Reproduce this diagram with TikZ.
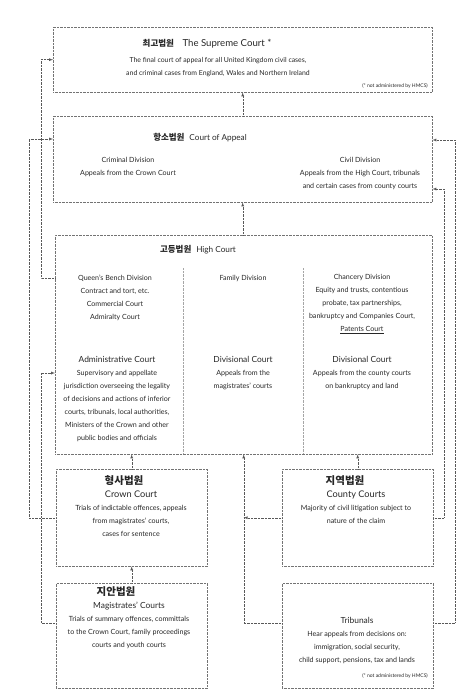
\documentclass[tikz,border=0pt]{standalone}
\usepackage{fontspec}
\setmainfont{Lato}
\newfontfamily\kor{Noto Sans CJK KR}
\usetikzlibrary{positioning, calc}

\begin{document}
\begin{tikzpicture}[x=1pt, y=-1pt,%
  every node/.style={inner sep=0pt, text=black!85},
  court/.style={draw=black!55, densely dotted, anchor=north west},
  body/.style={align=center, font=\fontsize{7.1}{13}\selectfont},
  title/.style={font=\fontsize{8.2}{11}\selectfont},
  link/.style={draw=black!65, densely dotted, -latex},
  divider/.style={draw=black!35, densely dotted}
  ]
  \useasboundingbox (0,0) rectangle (470,698);
  % the court boxes
  \node[court, minimum width=379pt, minimum height=65pt] (supreme) at (53,27) {};
  \node[court, minimum width=379pt, minimum height=86pt] (appeal) at (53,116) {};
  \node[court, minimum width=377pt, minimum height=219pt] (high) at (55,235) {};
  \node[court, minimum width=151pt, minimum height=97pt] (crown) at (56,469) {};
  \node[court, minimum width=151pt, minimum height=97pt] (county) at (282,469) {};
  \node[court, minimum width=151pt, minimum height=105pt] (magi) at (56,583) {};
  \node[court, minimum width=151pt, minimum height=105pt] (tribunal) at (282,583) {};
  \draw[divider] (183,268) -- (183,454);
  \draw[divider] (303,268) -- (303,454);

  % texts
  \node[title, font=\fontsize{9.6}{11}\selectfont] (supremetitle) at (207,44)
    {{\kor\bfseries\fontsize{8.5}{11}\selectfont 최고법원}\hspace{0.9em}The Supreme Court *};
  \node[body, font=\fontsize{6.9}{13}\selectfont] (supremetext) at (218,67.5)
    {The final court of appeal for all United Kingdom civil cases,\\
     and criminal cases from England, Wales and Northern Ireland};
  \node[body, font=\fontsize{5}{6}\selectfont, anchor=east] (supremenote) at (428,86)
    {(* not administered by HMCS)};

  \node[title] (appealtitle) at (200,138)
    {{\kor\bfseries\fontsize{8.5}{11}\selectfont 항소법원}\hspace{0.6em}Court of Appeal};
  \node[body] (criminal) at (128,166.5)
    {Criminal Division\\Appeals from the Crown Court};
  \node[body] (civil) at (360,173)
    {Civil Division\\Appeals from the High Court, tribunals\\and certain cases from county courts};

  \node[title] (hightitle) at (198,250)
    {{\kor\bfseries\fontsize{8.5}{11}\selectfont 고등법원}\hspace{0.6em}High Court};
  \node[body] (qbd) at (115,297.5)
    {Queen's Bench Division\\Contract and tort, etc.\\Commercial Court\\Admiralty Court};
  \node[body] (family) at (243,278) {Family Division};
  \node[body] (chancery) at (362,304)
    {Chancery Division\\Equity and trusts, contentious\\probate, tax partnerships,\\
     bankruptcy and Companies Court,\\\underline{Patents Court}};
  \node[body] (admin) at (117,399.5)
    {{\fontsize{8.4}{13}\selectfont Administrative Court}\\Supervisory and appellate\\
     jurisdiction overseeing the legality\\of decisions and actions of inferior\\
     courts, tribunals, local authorities,\\Ministers of the Crown and other\\
     public bodies and officials};
  \node[body] (divmid) at (243,373.5)
    {{\fontsize{8.4}{13}\selectfont Divisional Court}\\Appeals from the\\magistrates' courts};
  \node[body] (divright) at (362,373.5)
    {{\fontsize{8.4}{13}\selectfont Divisional Court}\\Appeals from the county courts\\on bankruptcy and land};

  \node[body] (crowntext) at (131,506)
    {{\kor\bfseries\fontsize{10.5}{13}\selectfont 형사법원}\hspace*{14pt}\\
     {\fontsize{9.2}{13}\selectfont Crown Court}\hspace*{4pt}\\
     Trials of indictable offences, appeals\\from magistrates' courts,\\cases for sentence};
  \node[body] (countytext) at (356,499.5)
    {{\kor\bfseries\fontsize{10.5}{13}\selectfont 지역법원}\hspace*{22pt}\\
     {\fontsize{9.2}{13}\selectfont County Courts}\hspace*{8pt}\\
     Majority of civil litigation subject to\\nature of the claim};
  \node[body] (magitext) at (129,618)
    {{\kor\bfseries\fontsize{10.5}{13}\selectfont 지안법원}\hspace*{26pt}\\
     {\fontsize{8.4}{13}\selectfont Magistrates' Courts}\hspace*{14pt}\\
     Trials of summary offences, committals\\to the Crown Court, family proceedings\\
     courts and youth courts};
  \node[body] (tribunaltext) at (357,641)
    {{\fontsize{8.4}{13}\selectfont Tribunals}\\Hear appeals from decisions on:\\
     immigration, social security,\\child support, pensions, tax and lands};
  \node[body, font=\fontsize{5}{6}\selectfont, anchor=east] (tribunalnote) at (428,676)
    {(* not administered by HMCS)};

  % where the connectors meet the boxes
  \coordinate (appealL) at ($(appeal.north west)+(0,23)$);
  \coordinate (appealR) at ($(appeal.north east)+(0,24)$);
  \coordinate (civilR) at ($(appeal.north east)+(0,73)$);
  \coordinate (qbdL) at ($(high.north west)+(0,43)$);
  \coordinate (adminL) at ($(high.north west)+(0,138)$);
  \coordinate (magiL) at ($(magi.north west)+(0,40)$);
  \coordinate (tribunalL) at ($(tribunal.north west)+(0,40)$);
  \coordinate (tribunalR) at ($(tribunal.north east)+(0,40)$);
  \coordinate (railA) at (29,0);
  \coordinate (railB) at (41,0);
  \coordinate (railC) at (444,0);
  \coordinate (railD) at (455,0);

  % connectors
  \draw[link] (appeal.north) -- (supreme.south);
  \draw[link] (high.north -| appeal.north) -- (appeal.south);
  \draw[link] (crown.north) -- (crown.north |- high.south);
  \draw[link] (county.north) -- (county.north |- high.south);
  \draw[link] (magi.north) -- (crown.south);
  \draw[link] (county.west) -- (county.west -| high.south);
  \draw[link] (tribunalL) -| (high.south);
  \draw[link] (qbdL) -| (railB |- supreme.west) -- (supreme.west);
  \draw[link] (crown.west) -| (railA |- appealL) -- (appealL);
  \draw[link] (magiL) -| (railB |- adminL) -- (adminL);
  \draw[link] (county.east) -| (railC |- civilR) -- (civilR);
  \draw[link] (tribunalR) -| (railD |- appealR) -- (appealR);
\end{tikzpicture}
\end{document}
